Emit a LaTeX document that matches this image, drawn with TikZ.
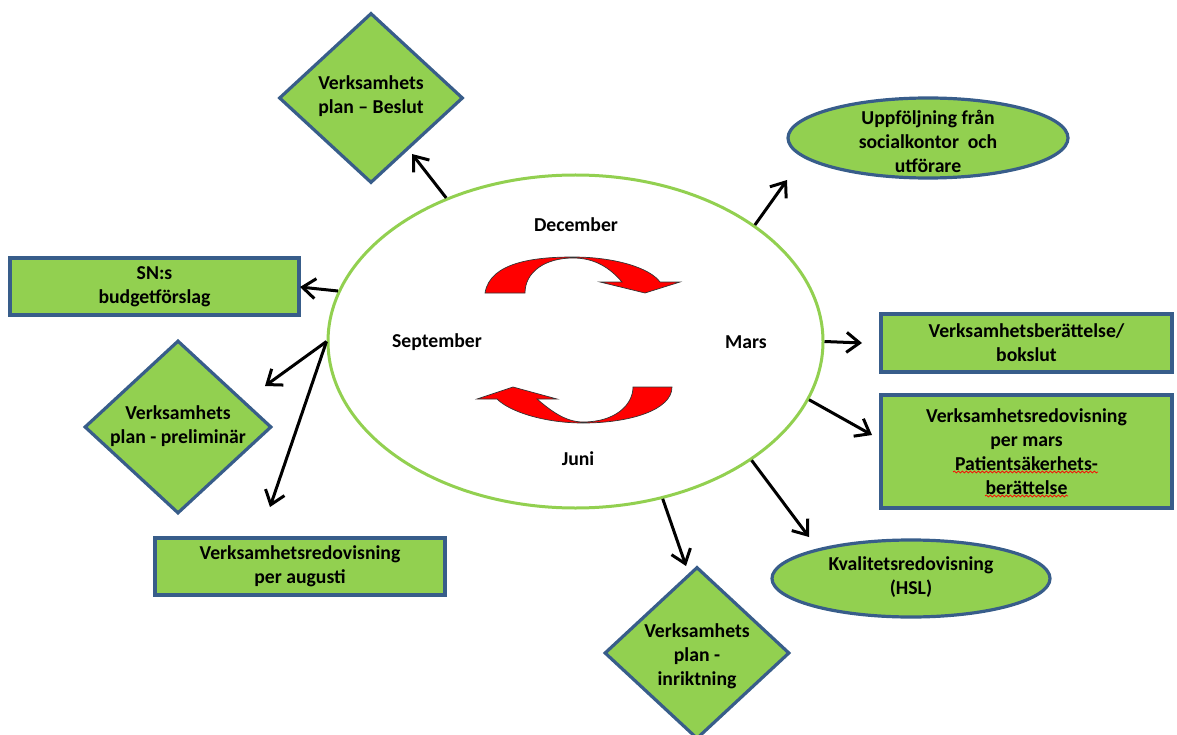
\documentclass[tikz,border=0pt]{standalone}
\usepackage{fontspec}
\setmainfont{Carlito}
\usetikzlibrary{shapes.geometric,arrows.meta,decorations.pathmorphing}
\definecolor{boxgreen}{HTML}{92D050}
\definecolor{boxblue}{HTML}{385D8A}
\definecolor{ringgreen}{HTML}{92D050}
\begin{document}
\begin{tikzpicture}[x=1pt,y=-1pt,
  every node/.style={font=\bfseries\fontsize{19.7}{24}\selectfont, align=center, text=black},
  box/.style={draw=boxblue, fill=boxgreen, line width=3.2pt, inner sep=0pt},
  rbox/.style={box, rectangle},
  dbox/.style={box, diamond},
  ebox/.style={box, ellipse},
  txt/.style={inner sep=0pt},
  conn/.style={line width=3pt, -{Straight Barb[length=13pt,width=20pt]}},
  redarrow/.style={fill=red, draw=black!80, line width=0.7pt},
  squiggle/.style={draw=red, line width=0.7pt, decorate, decoration={snake, segment length=4pt, amplitude=1pt}}]
\useasboundingbox (0,0) rectangle (1177,735);

% central ellipse
\node[ellipse, draw=ringgreen, line width=3pt, minimum width=495pt, minimum height=333pt, inner sep=0pt] (c) at (575.5,341.5) {};
\node[txt] (dec) at (576,225) {December};
\node[txt] (sep) at (437,342) {September};
\node[txt] (mar) at (746,342) {Mars};
\node[txt] (jun) at (578,459) {Juni};

% red curved arrows
\path[redarrow] (485,293) .. controls (490,262) and (535,257) .. (573,257)
  .. controls (615,257) and (650,268) .. (660,282) -- (680,282) -- (645,293) -- (600,282) -- (622,282)
  .. controls (610,268) and (595,258) .. (573,258)
  .. controls (545,258) and (525,272) .. (525,293) -- cycle;
\path[redarrow] (672,387) .. controls (672,410) and (630,423) .. (583,423)
  .. controls (545,423) and (510,412) .. (497,399) -- (477,399) -- (513,387) -- (557,399) -- (537,399)
  .. controls (550,410) and (565,422) .. (583,422)
  .. controls (615,422) and (633,405) .. (633,387) -- cycle;

% diamonds
\node[dbox, minimum width=184pt, minimum height=170pt] (d1) at (371,98) {};
\node[txt] (d1t) at (371,96) {Verksamhets\\plan – Beslut};
\node[dbox, minimum width=187pt, minimum height=173pt] (d2) at (178,427) {};
\node[txt] (d2t) at (178,426) {Verksamhets\\plan - preliminär};
\node[dbox, minimum width=185pt, minimum height=172pt] (d3) at (697,653) {};
\node[txt] (d3t) at (697,656) {Verksamhets\\plan -\\inriktning};

% rectangles
\node[rbox, minimum width=289pt, minimum height=57pt] (sn) at (154.5,286.5) {SN:s\\budgetförslag};
\node[rbox, minimum width=290pt, minimum height=57pt] (aug) at (300,566.5) {Verksamhetsredovisning\\per augusti};
\node[rbox, minimum width=291pt, minimum height=58pt] (bok) at (1026.5,343) {Verksamhetsberättelse/\\bokslut};
\node[rbox, minimum width=291pt, minimum height=113pt] (mars) at (1026.5,451.5) {Verksamhetsredovisning\\per mars\\Patientsäkerhets-\\berättelse};
\path[squiggle] (953,472) -- (1098,472);
\path[squiggle] (985,496) -- (1068,496);

% ellipses
\node[ebox, minimum width=280pt, minimum height=80pt] (upp) at (928,138) {};
\node[txt] (uppt) at (928,141) {Uppföljning från\\socialkontor\ \ och\\utförare};
\node[ebox, minimum width=278pt, minimum height=77pt] (hsl) at (911,578.5) {};
\node[txt] (hslt) at (911,577) {Kvalitetsredovisning\\(HSL)};

% connectors
\coordinate (e1) at (412,154);
\coordinate (e2) at (300,287);
\coordinate (e3) at (265,386);
\coordinate (e4) at (270,507);
\coordinate (e5) at (686,566);
\coordinate (e6) at (809,537);
\coordinate (e7) at (872,435);
\coordinate (e8) at (862,343);
\coordinate (e9) at (787,180);
\draw[conn] (c.132.7) -- (e1);
\draw[conn] (c.168.4) -- (e2);
\draw[conn] (c.180.6) -- (e3);
\draw[conn] (c.180.6) -- (e4);
\draw[conn] (c.-61.7) -- (e5);
\draw[conn] (c.-34.3) -- (e6);
\draw[conn] (c.-14.4) -- (e7);
\draw[conn] (c.0) -- (e8);
\draw[conn] (c.33.2) -- (e9);
\end{tikzpicture}
\end{document}
